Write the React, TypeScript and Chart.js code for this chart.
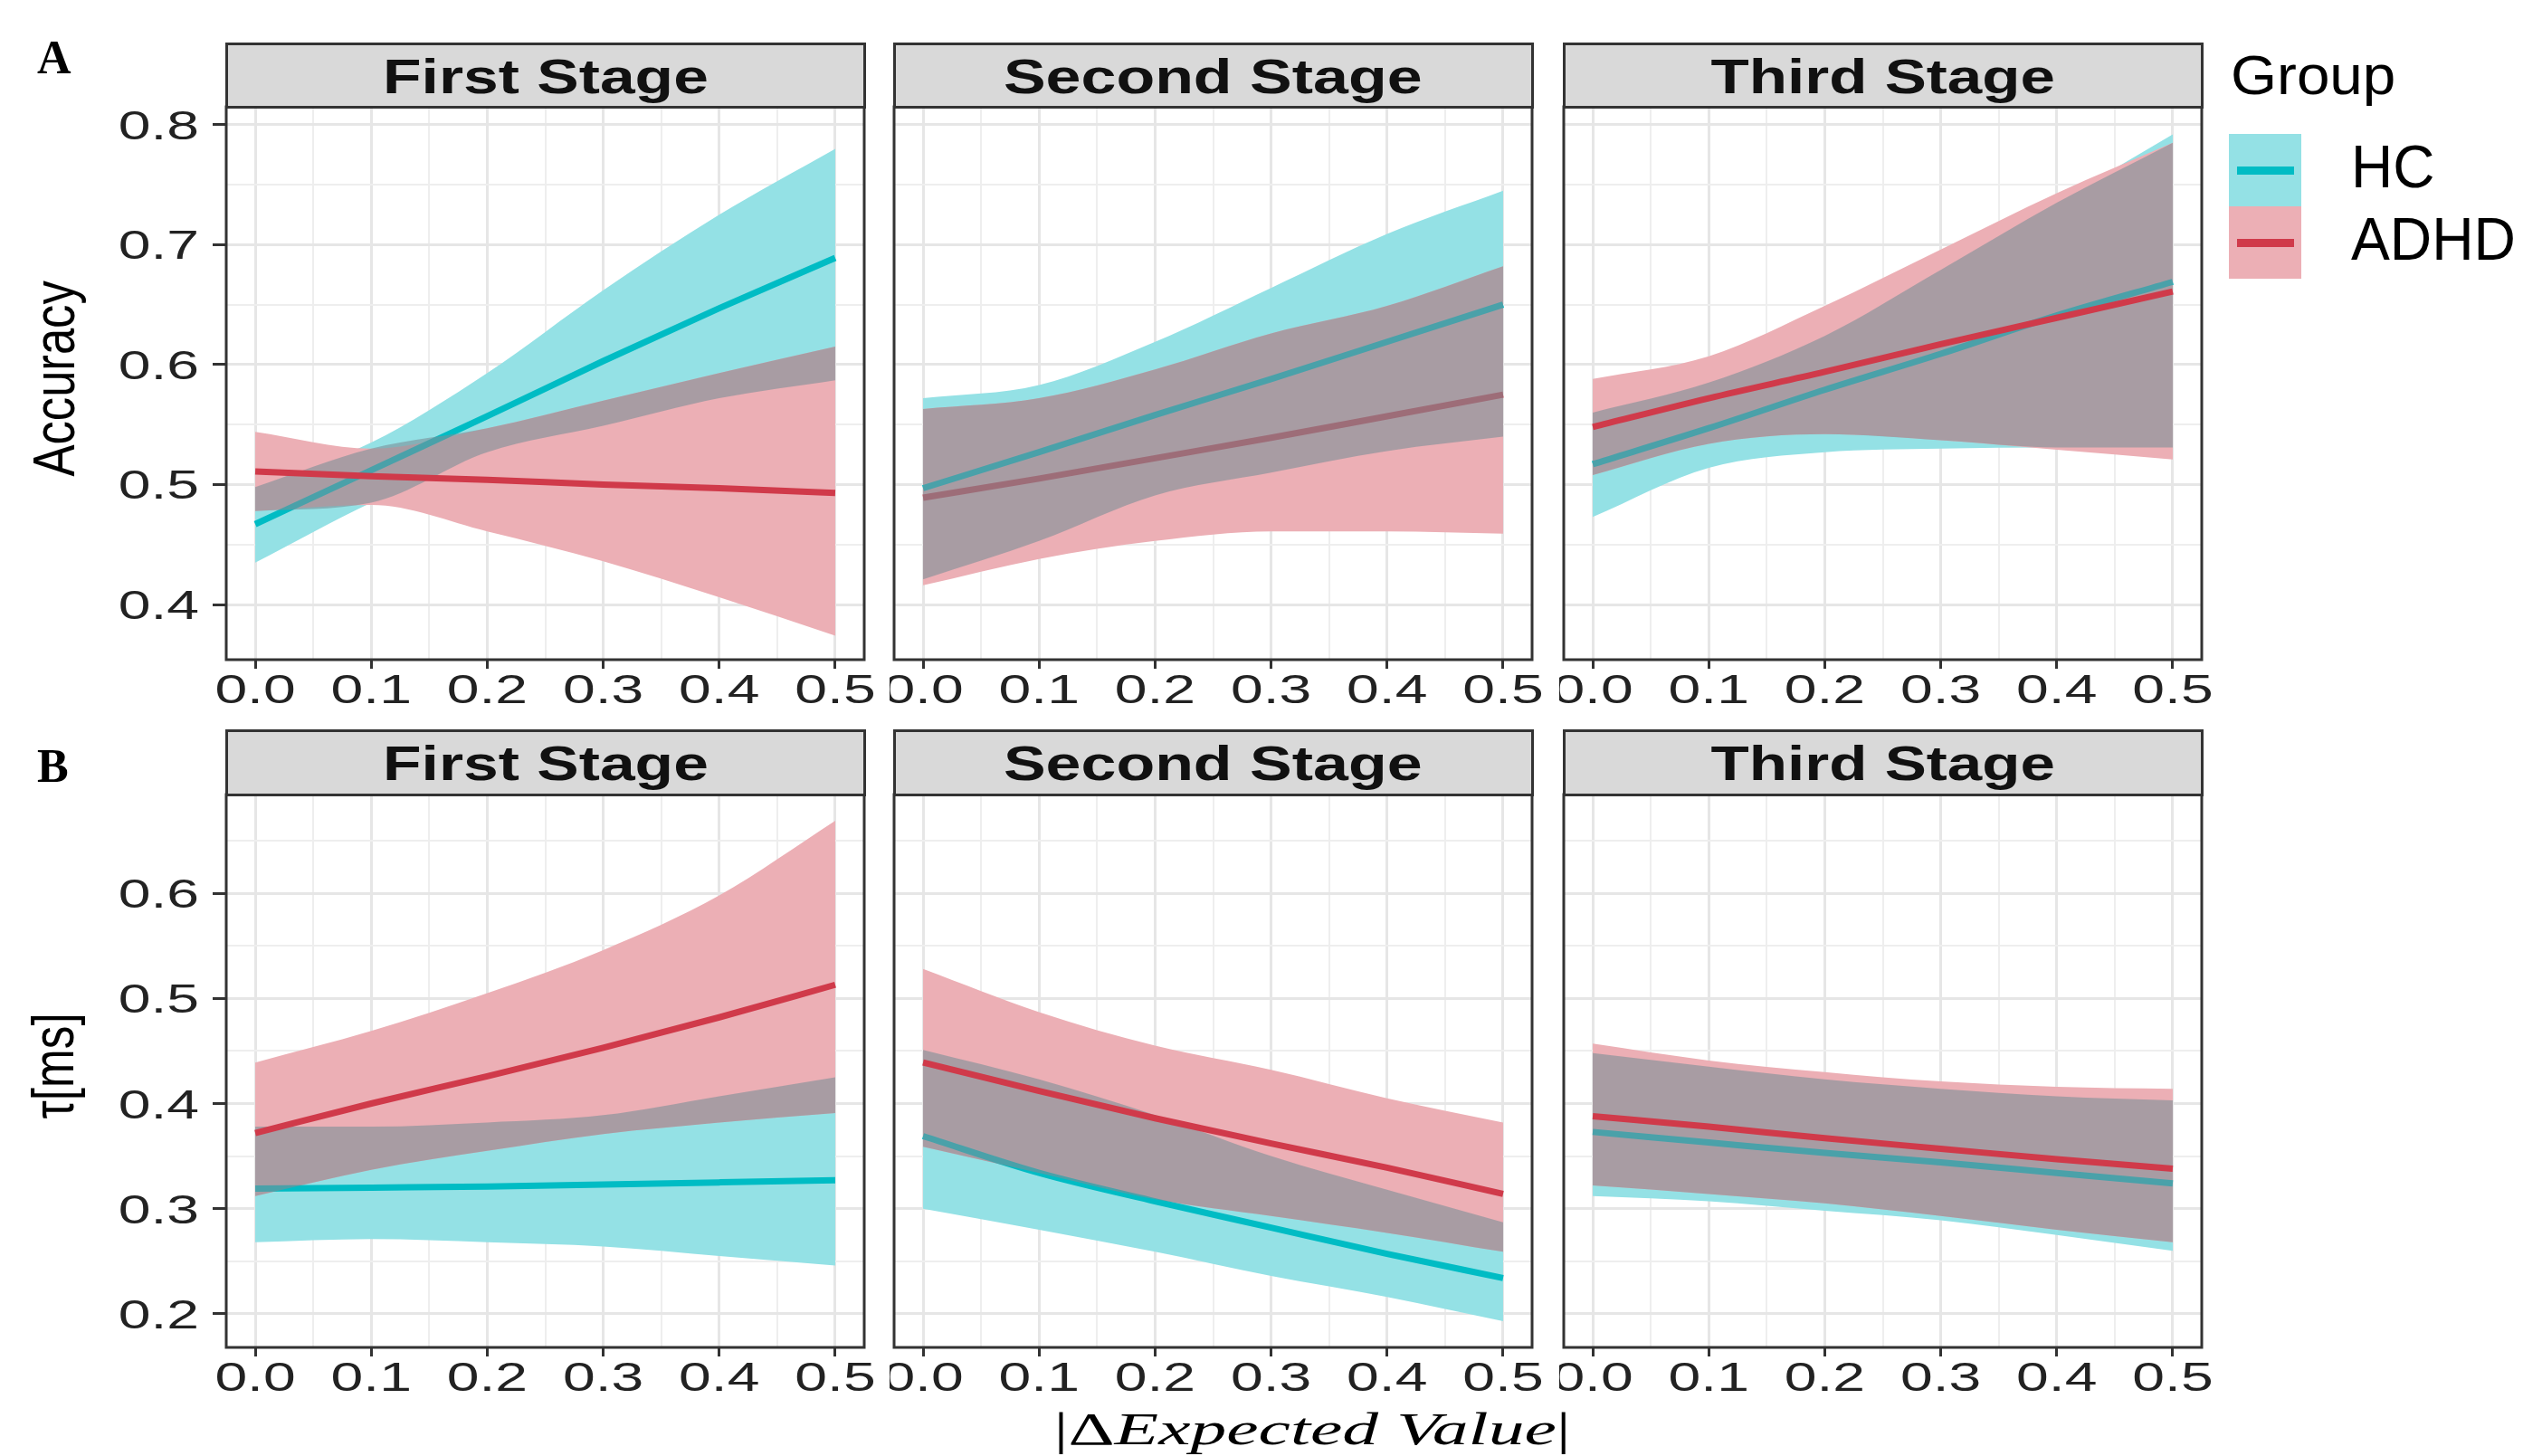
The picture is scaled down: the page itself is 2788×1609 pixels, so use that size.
import React, { useEffect, useLayoutEffect, useRef } from "react";
import { Chart, registerables } from "chart.js";

Chart.register(...registerables);

// ---------------- data ----------------
const X_POINTS = [0, 0.1, 0.2, 0.3, 0.4, 0.5];
const X_TICKS = [0, 0.1, 0.2, 0.3, 0.4, 0.5];
const X_TICK_LABELS = ["0.0", "0.1", "0.2", "0.3", "0.4", "0.5"];
const X_GRID = [0, 0.05, 0.1, 0.15, 0.2, 0.25, 0.3, 0.35, 0.4, 0.45, 0.5];
const X_RANGE = [-0.025, 0.525];

const ACC_TICKS = [0.4, 0.5, 0.6, 0.7, 0.8];
const ACC_TICK_LABELS = ["0.4", "0.5", "0.6", "0.7", "0.8"];
const ACC_GRID = [0.4, 0.45, 0.5, 0.55, 0.6, 0.65, 0.7, 0.75, 0.8];
const ACC_RANGE = [0.354, 0.815];

const TAU_TICKS = [0.2, 0.3, 0.4, 0.5, 0.6];
const TAU_TICK_LABELS = ["0.2", "0.3", "0.4", "0.5", "0.6"];
const TAU_GRID = [0.2, 0.25, 0.3, 0.35, 0.4, 0.45, 0.5, 0.55, 0.6, 0.65];
const TAU_RANGE = [0.168, 0.694];

const STAGES = ["First Stage", "Second Stage", "Third Stage"];
const GROUPS = ["HC", "ADHD"];
const Y_TITLES = ["Accuracy", "τ[ms]"];
const ROW_LETTERS = ["A", "B"];

// Accuracy - First stage
const ACC1_HC_FIT = [0.467, 0.512, 0.557, 0.603, 0.647, 0.689];
const ACC1_HC_LO = [0.435, 0.485, 0.527, 0.549, 0.572, 0.587];
const ACC1_HC_HI = [0.498, 0.535, 0.593, 0.662, 0.725, 0.78];
const ACC1_AD_FIT = [0.511, 0.507, 0.504, 0.5, 0.497, 0.493];
const ACC1_AD_LO = [0.478, 0.483, 0.461, 0.436, 0.406, 0.374];
const ACC1_AD_HI = [0.544, 0.53, 0.547, 0.57, 0.593, 0.615];
// Accuracy - Second stage
const ACC2_HC_FIT = [0.497, 0.527, 0.558, 0.588, 0.619, 0.65];
const ACC2_HC_LO = [0.421, 0.453, 0.491, 0.51, 0.528, 0.54];
const ACC2_HC_HI = [0.572, 0.583, 0.619, 0.664, 0.709, 0.745];
const ACC2_AD_FIT = [0.489, 0.505, 0.522, 0.539, 0.557, 0.575];
const ACC2_AD_LO = [0.416, 0.438, 0.453, 0.461, 0.461, 0.459];
const ACC2_AD_HI = [0.563, 0.572, 0.596, 0.626, 0.649, 0.682];
// Accuracy - Third stage
const ACC3_HC_FIT = [0.517, 0.547, 0.579, 0.609, 0.641, 0.669];
const ACC3_HC_LO = [0.473, 0.514, 0.527, 0.53, 0.531, 0.531];
const ACC3_HC_HI = [0.56, 0.585, 0.624, 0.679, 0.735, 0.792];
const ACC3_AD_FIT = [0.548, 0.572, 0.594, 0.617, 0.639, 0.661];
const ACC3_AD_LO = [0.508, 0.534, 0.542, 0.537, 0.529, 0.521];
const ACC3_AD_HI = [0.588, 0.607, 0.649, 0.696, 0.743, 0.785];
// Tau - First stage
const TAU1_HC_FIT = [0.319, 0.32, 0.321, 0.323, 0.325, 0.327];
const TAU1_HC_LO = [0.268, 0.271, 0.268, 0.264, 0.255, 0.246];
const TAU1_HC_HI = [0.378, 0.378, 0.382, 0.389, 0.407, 0.425];
const TAU1_AD_FIT = [0.372, 0.4, 0.426, 0.453, 0.482, 0.513];
const TAU1_AD_LO = [0.312, 0.337, 0.355, 0.371, 0.382, 0.391];
const TAU1_AD_HI = [0.439, 0.469, 0.505, 0.546, 0.598, 0.669];
// Tau - Second stage
const TAU2_HC_FIT = [0.369, 0.334, 0.307, 0.282, 0.257, 0.234];
const TAU2_HC_LO = [0.3, 0.28, 0.259, 0.236, 0.216, 0.193];
const TAU2_HC_HI = [0.451, 0.423, 0.389, 0.35, 0.318, 0.287];
const TAU2_AD_FIT = [0.439, 0.412, 0.386, 0.362, 0.339, 0.314];
const TAU2_AD_LO = [0.359, 0.334, 0.309, 0.293, 0.277, 0.259];
const TAU2_AD_HI = [0.528, 0.487, 0.455, 0.432, 0.405, 0.382];
// Tau - Third stage
const TAU3_HC_FIT = [0.373, 0.363, 0.353, 0.344, 0.334, 0.324];
const TAU3_HC_LO = [0.312, 0.307, 0.298, 0.289, 0.275, 0.26];
const TAU3_HC_HI = [0.448, 0.435, 0.423, 0.414, 0.407, 0.403];
const TAU3_AD_FIT = [0.388, 0.378, 0.367, 0.357, 0.347, 0.338];
const TAU3_AD_LO = [0.322, 0.314, 0.305, 0.293, 0.28, 0.268];
const TAU3_AD_HI = [0.457, 0.441, 0.43, 0.421, 0.416, 0.414];

// ---------------- style ----------------
const HC_COLOR = "#00bcc4";
const ADHD_COLOR = "#d03a4a";
const HC_BAND = "#94e1e5";
const ADHD_BAND = "#ecafb5";
const OVERLAP_BAND = "rgba(123,143,151,0.6)";
const SANS = '"Liberation Sans", Arial, Helvetica, sans-serif';
const NARROW = '"Liberation Sans Narrow", "Arial Narrow", "Liberation Sans", sans-serif';
const SERIF = '"Liberation Serif", "Times New Roman", serif';

const PANEL_LEFT = [250, 988, 1728];
const PANEL_W = 705;
const STRIP_TOP = [47, 806];
const PLOT_TOP = [118, 878];
const PLOT_H = 611;
const TICK_FONT = 44;
const TICK_STRETCH = 1.46;
const STRIP_TEXT_W = [360, 462, 381];

type PanelCfg = {
  row: number;
  col: number;
  hcFit: number[];
  hcLo: number[];
  hcHi: number[];
  adFit: number[];
  adLo: number[];
  adHi: number[];
  adhdOnTop: boolean;
};

const PANELS: PanelCfg[] = [
  { row: 0, col: 0, hcFit: ACC1_HC_FIT, hcLo: ACC1_HC_LO, hcHi: ACC1_HC_HI, adFit: ACC1_AD_FIT, adLo: ACC1_AD_LO, adHi: ACC1_AD_HI, adhdOnTop: true },
  { row: 0, col: 1, hcFit: ACC2_HC_FIT, hcLo: ACC2_HC_LO, hcHi: ACC2_HC_HI, adFit: ACC2_AD_FIT, adLo: ACC2_AD_LO, adHi: ACC2_AD_HI, adhdOnTop: false },
  { row: 0, col: 2, hcFit: ACC3_HC_FIT, hcLo: ACC3_HC_LO, hcHi: ACC3_HC_HI, adFit: ACC3_AD_FIT, adLo: ACC3_AD_LO, adHi: ACC3_AD_HI, adhdOnTop: true },
  { row: 1, col: 0, hcFit: TAU1_HC_FIT, hcLo: TAU1_HC_LO, hcHi: TAU1_HC_HI, adFit: TAU1_AD_FIT, adLo: TAU1_AD_LO, adHi: TAU1_AD_HI, adhdOnTop: true },
  { row: 1, col: 1, hcFit: TAU2_HC_FIT, hcLo: TAU2_HC_LO, hcHi: TAU2_HC_HI, adFit: TAU2_AD_FIT, adLo: TAU2_AD_LO, adHi: TAU2_AD_HI, adhdOnTop: true },
  { row: 1, col: 2, hcFit: TAU3_HC_FIT, hcLo: TAU3_HC_LO, hcHi: TAU3_HC_HI, adFit: TAU3_AD_FIT, adLo: TAU3_AD_LO, adHi: TAU3_AD_HI, adhdOnTop: true },
];

const isMajor = (v: number) => Math.abs(v * 10 - Math.round(v * 10)) < 1e-6;
const pts = (ys: number[]) => X_POINTS.map((x, i) => ({ x, y: ys[i] }));

function makeDecoPlugin(showY: boolean, yTicks: number[], yLabels: string[]) {
  return {
    id: "panelDeco",
    afterDraw(chart: any) {
      const { ctx, chartArea: a, scales } = chart;
      ctx.save();
      ctx.lineWidth = 3;
      ctx.strokeStyle = "#333333";
      ctx.strokeRect(a.left, a.top, a.right - a.left, a.bottom - a.top);
      ctx.fillStyle = "#222222";
      ctx.font = `${TICK_FONT}px ${SANS}`;
      ctx.textBaseline = "alphabetic";
      ctx.textAlign = "center";
      X_TICKS.forEach((v, i) => {
        const px = scales.x.getPixelForValue(v);
        ctx.save();
        ctx.translate(px, a.bottom + 48);
        ctx.scale(TICK_STRETCH, 1);
        ctx.fillText(X_TICK_LABELS[i], 0, 0);
        ctx.restore();
      });
      if (showY) {
        ctx.textAlign = "right";
        yTicks.forEach((v, i) => {
          const py = scales.y.getPixelForValue(v);
          ctx.save();
          ctx.translate(a.left - 30, py + 16);
          ctx.scale(TICK_STRETCH, 1);
          ctx.fillText(yLabels[i], 0, 0);
          ctx.restore();
        });
      }
      ctx.restore();
    },
  };
}

const PAD_L = 5;
const PAD_R = 30;
const PAD_T = 4;
const X_AXIS_H = 70;

function Panel({ p }: { p: PanelCfg }) {
  const ref = useRef<HTMLCanvasElement>(null);
  const yW = p.col === 0 ? 135 : 0;
  const w = PAD_L + yW + PANEL_W + PAD_R;
  const h = PAD_T + PLOT_H + X_AXIS_H;
  const left = PANEL_LEFT[p.col] - PAD_L - yW;
  const top = PLOT_TOP[p.row] - PAD_T;

  useEffect(() => {
    const yRange = p.row === 0 ? ACC_RANGE : TAU_RANGE;
    const yGrid = p.row === 0 ? ACC_GRID : TAU_GRID;
    const yTicks = p.row === 0 ? ACC_TICKS : TAU_TICKS;
    const yLabels = p.row === 0 ? ACC_TICK_LABELS : TAU_TICK_LABELS;
    const ovLo = X_POINTS.map((_, i) => Math.max(p.hcLo[i], p.adLo[i]));
    const ovHi = X_POINTS.map((_, i) => Math.max(ovLo[i], Math.min(p.hcHi[i], p.adHi[i])));
    const hidden = { borderColor: "rgba(0,0,0,0)", borderWidth: 0, pointRadius: 0, fill: false };
    const datasets: any[] = [
      { label: "hcLo", data: pts(p.hcLo), ...hidden, order: 90 },
      { label: "hcHi", data: pts(p.hcHi), ...hidden, fill: "-1", backgroundColor: HC_BAND, order: 90 },
      { label: "adLo", data: pts(p.adLo), ...hidden, order: 80 },
      { label: "adHi", data: pts(p.adHi), ...hidden, fill: "-1", backgroundColor: ADHD_BAND, order: 80 },
      { label: GROUPS[0], data: pts(p.hcFit), borderColor: HC_COLOR, borderWidth: 7, pointRadius: 0, fill: false, order: 70 },
      { label: "ovLo", data: pts(ovLo), ...hidden, order: 60 },
      { label: "ovHi", data: pts(ovHi), ...hidden, fill: "-1", backgroundColor: OVERLAP_BAND, order: 60 },
      { label: GROUPS[1], data: pts(p.adFit), borderColor: ADHD_COLOR, borderWidth: 7, pointRadius: 0, fill: false, order: p.adhdOnTop ? 50 : 65 },
    ];
    const gridColor = (c: any) => (isMajor(c.tick.value) ? "#e6e6e6" : "#eeeeee");
    const gridWidth = (c: any) => (isMajor(c.tick.value) ? 3 : 2);
    const tickColor = (c: any) => (isMajor(c.tick.value) ? "#333333" : "rgba(0,0,0,0)");
    const chart = new Chart(ref.current as HTMLCanvasElement, {
      type: "line",
      data: { datasets },
      plugins: [makeDecoPlugin(p.col === 0, yTicks, yLabels)],
      options: {
        animation: false,
        responsive: false,
        devicePixelRatio: 1,
        events: [],
        layout: { padding: { left: PAD_L, right: PAD_R, top: PAD_T, bottom: 0 } },
        elements: { line: { tension: 0, cubicInterpolationMode: "monotone", capBezierPoints: true } },
        plugins: { legend: { display: false }, tooltip: { enabled: false }, title: { display: false } },
        scales: {
          x: {
            type: "linear",
            min: X_RANGE[0],
            max: X_RANGE[1],
            bounds: "data",
            afterBuildTicks: (s: any) => {
              s.ticks = X_GRID.map((v) => ({ value: v }));
            },
            afterFit: (s: any) => {
              s.height = X_AXIS_H;
            },
            ticks: { display: false },
            border: { display: false },
            grid: { color: gridColor, lineWidth: gridWidth, tickColor, tickWidth: 3, tickLength: 10, drawTicks: true },
          },
          y: {
            type: "linear",
            min: yRange[0],
            max: yRange[1],
            bounds: "data",
            afterBuildTicks: (s: any) => {
              s.ticks = yGrid.map((v) => ({ value: v }));
            },
            afterFit: (s: any) => {
              s.width = yW;
            },
            ticks: { display: false },
            border: { display: false },
            grid: {
              color: gridColor,
              lineWidth: gridWidth,
              tickColor,
              tickWidth: 3,
              tickLength: 15,
              drawTicks: p.col === 0,
            },
          },
        },
      } as any,
    });
    return () => chart.destroy();
  }, []);

  return (
    <canvas
      ref={ref}
      width={w}
      height={h}
      style={{ position: "absolute", left, top, width: w, height: h }}
    />
  );
}

function FitText({ width, origin = "center", style, children }: any) {
  const ref = useRef<HTMLSpanElement>(null);
  useLayoutEffect(() => {
    const el = ref.current;
    if (!el) return;
    const fit = () => {
      el.style.transform = "none";
      const w = el.offsetWidth;
      if (w > 0) el.style.transform = `scaleX(${width / w})`;
    };
    fit();
    const fonts = (document as any).fonts;
    if (fonts && fonts.ready) fonts.ready.then(fit);
  }, [width]);
  return (
    <span
      ref={ref}
      style={{
        display: "inline-block",
        whiteSpace: "nowrap",
        lineHeight: 1,
        transformOrigin: `${origin} center`,
        ...style,
      }}
    >
      {children}
    </span>
  );
}

function Strip({ row, col }: { row: number; col: number }) {
  return (
    <div
      style={{
        position: "absolute",
        left: PANEL_LEFT[col] - 1.5,
        top: STRIP_TOP[row],
        width: PANEL_W + 3,
        height: PLOT_TOP[row] - STRIP_TOP[row] + 1.5,
        boxSizing: "border-box",
        border: "3px solid #333333",
        background: "#d9d9d9",
        display: "flex",
        alignItems: "center",
        justifyContent: "center",
        overflow: "hidden",
      }}
    >
      <FitText width={STRIP_TEXT_W[col]} style={{ fontFamily: SANS, fontWeight: 700, fontSize: 53, color: "#111", marginTop: 2 }}>
        {STAGES[col]}
      </FitText>
    </div>
  );
}

function RotTitle({ cx, cy, len, text }: any) {
  return (
    <div
      style={{
        position: "absolute",
        left: cx - 300,
        top: cy - 50,
        width: 600,
        height: 100,
        display: "flex",
        alignItems: "center",
        justifyContent: "center",
        transform: "rotate(-90deg)",
        transformOrigin: "center center",
      }}
    >
      <FitText width={len} style={{ fontFamily: NARROW, fontSize: 64, color: "#000" }}>
        {text}
      </FitText>
    </div>
  );
}

function LeftText({ x, top, width, size, text }: any) {
  return (
    <div style={{ position: "absolute", left: x, top, whiteSpace: "nowrap" }}>
      <FitText width={width} origin="left" style={{ fontFamily: SANS, fontSize: size, color: "#000" }}>
        {text}
      </FitText>
    </div>
  );
}

export default function App() {
  return (
    <div
      style={{
        position: "absolute",
        left: 0,
        top: 0,
        width: 2788,
        height: 1609,
        background: "#ffffff",
        overflow: "hidden",
      }}
    >
      {PANELS.map((p) => (
        <Panel key={`${p.row}-${p.col}`} p={p} />
      ))}
      {[0, 1].map((r) => [0, 1, 2].map((c) => <Strip key={`s${r}${c}`} row={r} col={c} />))}

      {/* row letters */}
      {ROW_LETTERS.map((t, i) => (
        <div
          key={t}
          style={{
            position: "absolute",
            left: 41,
            top: i === 0 ? 38 : 821,
            fontFamily: SERIF,
            fontWeight: 700,
            fontSize: 52,
            lineHeight: 1,
            color: "#000",
          }}
        >
          {t}
        </div>
      ))}

      {/* y titles */}
      <RotTitle cx={60} cy={418} len={216} text={Y_TITLES[0]} />
      <RotTitle cx={59} cy={1178} len={117} text={Y_TITLES[1]} />

      {/* x title */}
      <div
        style={{
          position: "absolute",
          left: 1450 - 500,
          top: 1554,
          width: 1000,
          textAlign: "center",
        }}
      >
        <FitText width={571} style={{ fontFamily: SERIF, fontSize: 51, color: "#000" }}>
          <span>|Δ</span>
          <span style={{ fontStyle: "italic" }}>Expected Value</span>
          <span>|</span>
        </FitText>
      </div>

      {/* legend */}
      <LeftText x={2465} top={52} width={182} size={62} text="Group" />
      <div style={{ position: "absolute", left: 2463, top: 148, width: 80, height: 80, background: HC_BAND }} />
      <div style={{ position: "absolute", left: 2463, top: 228, width: 80, height: 80, background: ADHD_BAND }} />
      <div style={{ position: "absolute", left: 2472, top: 184, width: 63, height: 9, background: HC_COLOR }} />
      <div style={{ position: "absolute", left: 2472, top: 264, width: 63, height: 9, background: ADHD_COLOR }} />
      <LeftText x={2598} top={151} width={92} size={66} text={GROUPS[0]} />
      <LeftText x={2598} top={231} width={182} size={66} text={GROUPS[1]} />
    </div>
  );
}
